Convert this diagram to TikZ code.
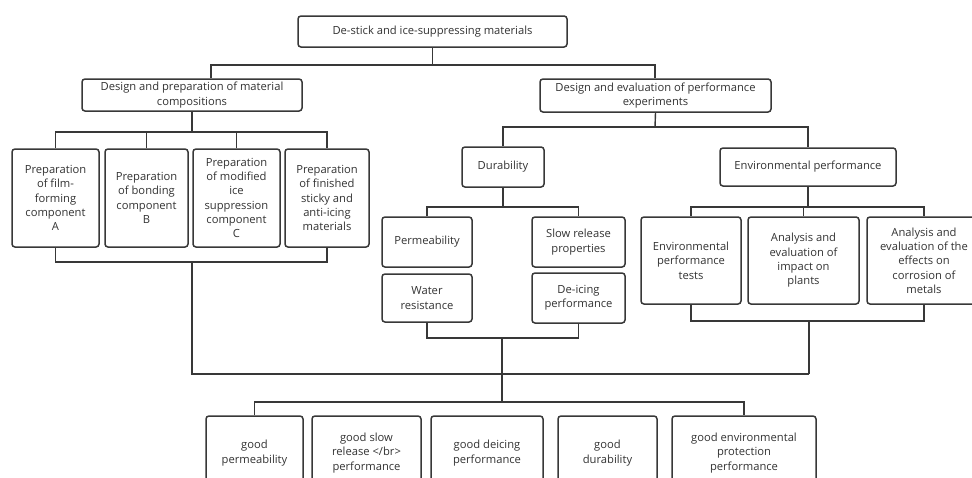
\documentclass[tikz,border=0pt]{standalone}
\usepackage{fontspec}
\setmainfont{Open Sans}
\definecolor{ln}{HTML}{383838}
\definecolor{tx}{HTML}{333333}
\tikzset{
  bx/.style={draw=ln, line width=1.5pt, rounded corners=3pt, align=center, inner sep=0pt,
    text=tx, font=\fontsize{11.2}{14.3}\selectfont},
  cn/.style={draw=ln, line width=1.4pt},
}
\begin{document}
\begin{tikzpicture}[x=1pt,y=-1pt]
\path[use as bounding box, clip] (0,0) rectangle (972,477);
\fill[white] (0,0) rectangle (972,477);
% level 0 and 1
\node[bx, minimum width=269pt, minimum height=31pt] (root) at (432.5,31.5) {De-stick and ice-suppressing materials};
\node[bx, minimum width=220pt, minimum height=32pt] (L1) at (192,95) {Design and preparation of material\\compositions};
\node[bx, minimum width=231pt, minimum height=33pt] (R1) at (655.5,95.5) {Design and evaluation of performance\\experiments};
% left children
\node[bx, minimum width=87pt, minimum height=98pt] (A) at (55.5,198) {Preparation\\of film-\\forming\\component\\A};
\node[bx, minimum width=83pt, minimum height=98pt] (B) at (146.5,198) {Preparation\\of bonding\\component\\B};
\node[bx, minimum width=87pt, minimum height=98pt] (C) at (236.5,198) {Preparation\\of modified\\ice\\suppression\\component\\C};
\node[bx, minimum width=84pt, minimum height=98pt] (D) at (327,198) {Preparation\\of finished\\sticky and\\anti-icing\\materials};
% right children
\node[bx, minimum width=82pt, minimum height=40pt] (dur) at (503,167) {Durability};
\node[bx, minimum width=176pt, minimum height=38pt] (env) at (808,167) {Environmental performance};
\node[bx, minimum width=90pt, minimum height=50pt] (perm) at (427,242) {Permeability};
\node[bx, minimum width=90pt, minimum height=48pt] (water) at (427,298) {Water\\resistance};
\node[bx, minimum width=93pt, minimum height=50pt] (slow) at (578.5,242) {Slow release\\properties};
\node[bx, minimum width=93pt, minimum height=50pt] (deice) at (578.5,298) {De-icing\\performance};
\node[bx, minimum width=100pt, minimum height=87pt] (et) at (691,260.5) {Environmental\\performance\\tests};
\node[bx, minimum width=111pt, minimum height=87pt] (pl) at (803.5,260.5) {Analysis and\\evaluation of\\impact on\\plants};
\node[bx, minimum width=114pt, minimum height=87pt] (me) at (924,260.5) {Analysis and\\evaluation of the\\effects on\\corrosion of\\metals};
% bottom results
\node[bx, minimum width=97pt, minimum height=74pt] (g1) at (254.5,453) {good\\permeability};
\node[bx, minimum width=109pt, minimum height=74pt] (g2) at (366.5,453) {good slow\\release </br>\\performance};
\node[bx, minimum width=112pt, minimum height=74pt] (g3) at (487,453) {good deicing\\performance};
\node[bx, minimum width=99pt, minimum height=74pt] (g4) at (607.5,453) {good\\durability};
\node[bx, minimum width=144pt, minimum height=74pt] (g5) at (744,453) {good environmental\\protection\\performance};
% junction coordinates
\coordinate (j0) at (432.5,65);
\coordinate (jL) at (211,65);
\coordinate (jR) at (655,65);
\coordinate (jL1) at (192,132);
\coordinate (jL2) at (192,262);
\coordinate (jR1) at (655,127);
\coordinate (jD1) at (503,207);
\coordinate (jD2) at (502,338);
\coordinate (jE1) at (808,207);
\coordinate (jE2) at (809,321);
\coordinate (jB1) at (192,374);
\coordinate (jB2) at (809,374);
\coordinate (jM) at (502,402);
% connectors
\draw[cn] (root.south) -- (j0);
\draw[cn] (L1.north -| jL) -- (jL) -- (jR) -- (R1.north -| jR);
\draw[cn] (L1.south) -- (jL1);
\draw[cn] (A.north) -- (A.north |- jL1) -- (D.north |- jL1) -- (D.north);
\draw[cn] (B.north) -- (B.north |- jL1);
\draw[cn] (C.north) -- (C.north |- jL1);
\draw[cn] (A.south) -- (A.south |- jL2) -- (D.south |- jL2) -- (D.south);
\draw[cn] (jL2) -- (jB1) -- (jB2);
\draw[cn] (R1.south) -- (jR1);
\draw[cn] (dur.north) -- (dur.north |- jR1) -- (env.north |- jR1) -- (env.north);
\draw[cn] (dur.south) -- (jD1);
\draw[cn] (perm.north) -- (perm.north |- jD1) -- (slow.north |- jD1) -- (slow.north);
\draw[cn] (water.south) -- (water.south |- jD2) -- (deice.south |- jD2) -- (deice.south);
\draw[cn] (jD2) -- (jM);
\draw[cn] (env.south) -- (jE1);
\draw[cn] (et.north) -- (et.north |- jE1) -- (me.north |- jE1) -- (me.north);
\draw[cn] (pl.north) -- (pl.north |- jE1);
\draw[cn] (et.south) -- (et.south |- jE2) -- (me.south |- jE2) -- (me.south);
\draw[cn] (jE2) -- (jB2);
\draw[cn] (g1.north) -- (g1.north |- jM) -- (g5.north |- jM) -- (g5.north);
\end{tikzpicture}
\end{document}
